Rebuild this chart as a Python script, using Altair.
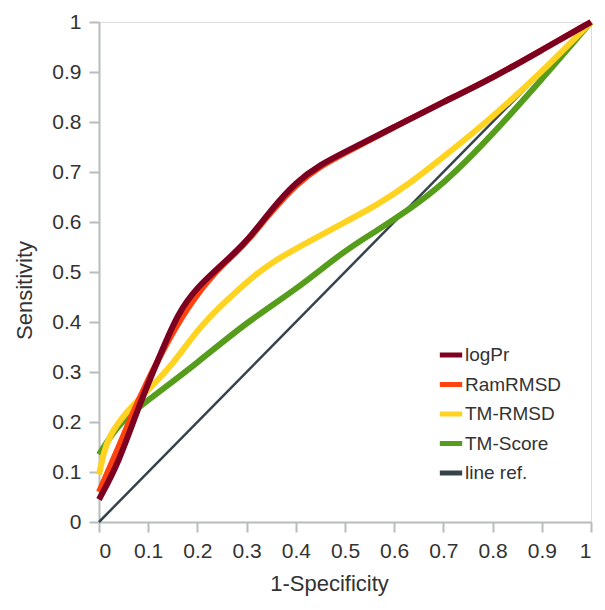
import altair as alt
import pandas as pd

series_names = ["logPr", "RamRMSD", "TM-RMSD", "TM-Score", "line ref."]
colors = ["#7E0021", "#FF420E", "#FFD320", "#579D1C", "#36434B"]

logpr_x = [0, 0.04, 0.08, 0.12, 0.16, 0.2, 0.25, 0.3, 0.35, 0.4, 0.45, 0.5, 0.6, 0.7, 0.8, 0.9, 1]
logpr_y = [0.045, 0.118, 0.23, 0.324, 0.418, 0.47, 0.515, 0.56, 0.625, 0.68, 0.715, 0.74, 0.79, 0.84, 0.888, 0.944, 1]

ram_x = [0, 0.04, 0.08, 0.13, 0.18, 0.233, 0.28, 0.3, 0.35, 0.4, 0.45, 0.5, 0.6, 0.7, 0.8, 0.9, 1]
ram_y = [0.06, 0.15, 0.245, 0.345, 0.43, 0.498, 0.54, 0.56, 0.62, 0.675, 0.712, 0.738, 0.79, 0.84, 0.888, 0.944, 1]

tmr_x = [0, 0.01, 0.02, 0.05, 0.1, 0.15, 0.2, 0.25, 0.3, 0.35, 0.433, 0.5, 0.567, 0.633, 0.7, 0.8, 0.9, 1]
tmr_y = [0.095, 0.14, 0.17, 0.215, 0.264, 0.315, 0.385, 0.435, 0.48, 0.52, 0.564, 0.6, 0.635, 0.678, 0.73, 0.81, 0.9, 1]

tms_x = [0, 0.04, 0.1, 0.2, 0.3, 0.4, 0.5, 0.567, 0.62, 0.7, 0.8, 0.9, 1]
tms_y = [0.135, 0.198, 0.244, 0.318, 0.4, 0.464, 0.544, 0.584, 0.618, 0.675, 0.775, 0.885, 1]

ref_x = [0, 1]
ref_y = [0, 1]

rows = []
for name, xs, ys in [("logPr", logpr_x, logpr_y), ("RamRMSD", ram_x, ram_y),
                     ("TM-RMSD", tmr_x, tmr_y), ("TM-Score", tms_x, tms_y),
                     ("line ref.", ref_x, ref_y)]:
    for xv, yv in zip(xs, ys):
        rows.append({"series": name, "x": xv, "y": yv})
df = pd.DataFrame(rows)

FONT = "Liberation Sans"
TEXT = "#333333"
ticks = [i / 10 for i in range(11)]

color = alt.Color(
    "series:N",
    scale=alt.Scale(domain=series_names, range=colors),
    legend=alt.Legend(
        title=None, orient="none", legendX=338, legendY=319,
        symbolType="stroke", symbolStrokeWidth=5, symbolSize=500,
        labelFont=FONT, labelFontSize=19, labelColor=TEXT,
        rowPadding=5.5, labelOffset=0,
    ),
)

axis_common = dict(
    values=ticks, format=".1~f", grid=False,
    domainColor="#B8BCBC", domainWidth=2,
    tickColor="#B8BCBC", tickWidth=2, tickSize=10,
    labelFont=FONT, labelFontSize=21, labelColor=TEXT,
    titleFont=FONT, titleFontSize=22, titleFontWeight="normal", titleColor=TEXT,
)

x = alt.X("x:Q", title="1-Specificity",
          scale=alt.Scale(domain=[0, 1], nice=False),
          axis=alt.Axis(labelPadding=8, titlePadding=12, titleX=230, **axis_common))
y = alt.Y("y:Q", title="Sensitivity",
          scale=alt.Scale(domain=[0, 1], nice=False),
          axis=alt.Axis(labelPadding=8, titlePadding=15, titleY=268, **axis_common))

base = alt.Chart(df)

layers = [
    base.transform_filter(alt.datum.series == "line ref.").mark_line(
        strokeWidth=2.5).encode(x=x, y=y, color=color)
]
for name in ["TM-Score", "TM-RMSD", "RamRMSD", "logPr"]:
    layers.append(
        base.transform_filter(alt.datum.series == name).mark_line(
            strokeWidth=6, interpolate="basis").encode(x=x, y=y, color=color)
    )

chart = alt.layer(*layers).properties(
    width=492, height=500,
    autosize=alt.AutoSizeParams(type="none"),
    padding={"left": 91, "top": 14, "right": 6, "bottom": 74},
).configure_view(stroke="#C4C8C8", strokeWidth=2).configure(background="white")

chart.save("out.html", embed_options={"renderer": "svg", "actions": False})
